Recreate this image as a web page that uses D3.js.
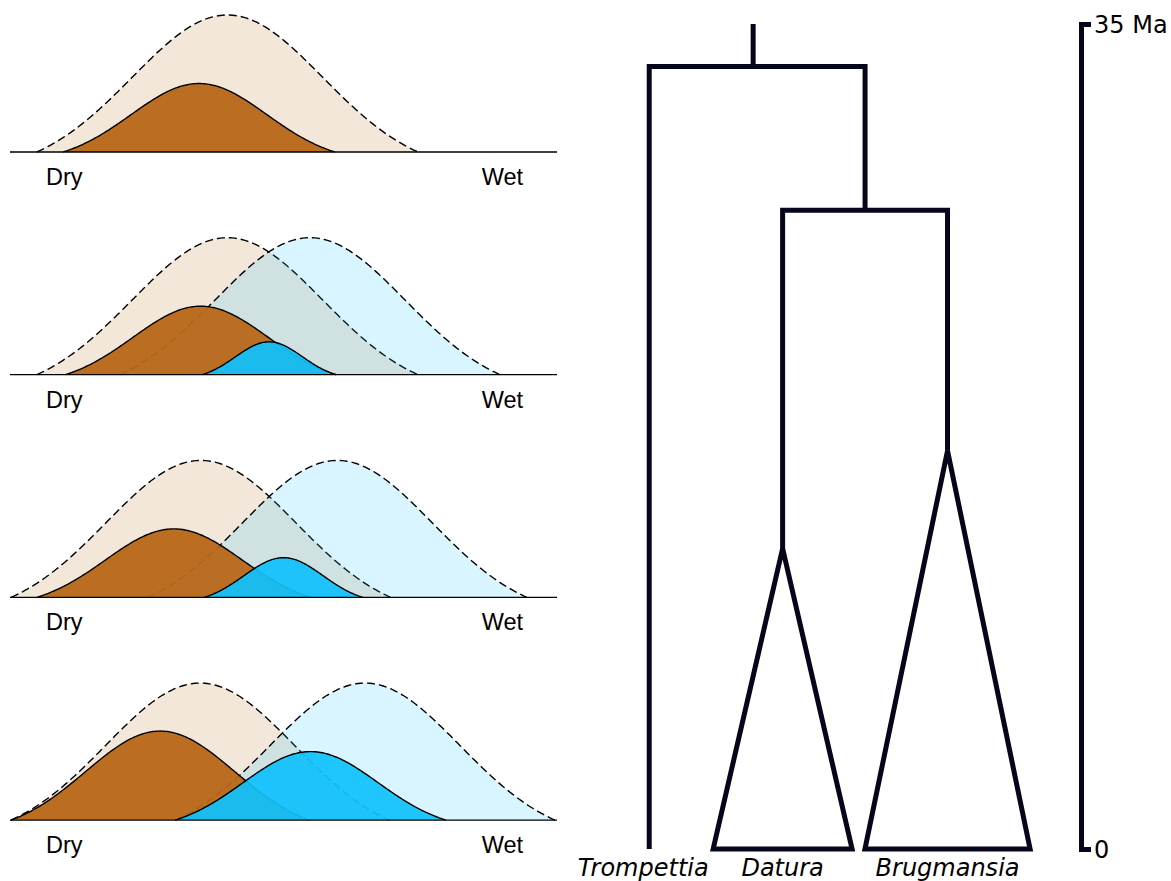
<!DOCTYPE html>
<html>
<head>
<meta charset="utf-8">
<script src="https://cdn.jsdelivr.net/npm/d3@7"></script>
<style>
  body { margin: 0; background: #fff; }
  .lab { font-family: "Liberation Sans", Arial, sans-serif; font-size: 23.5px; fill: #000; }
  .taxon { font-family: "DejaVu Sans", Verdana, sans-serif; font-size: 24px; font-style: italic; fill: #000; }
  .scale text { font-family: "DejaVu Sans", Verdana, sans-serif; font-size: 24px; fill: #000; }
</style>
</head>
<body>
<svg id="fig"></svg>
<script>
var width = 1171,
height = 881;

// niche curves for each stage, [dry end, wet end, peak] on a 0-100 moisture axis
var ancPotential = [[4.9, 74.6, 1], [4.9, 74.6, 1], [0.2, 69.6, 1], [0.2, 69.3, 1]];
var ancRealized  = [[9.7, 59.4, 0.5], [10.1, 59.6, 0.5], [4.9, 55.0, 0.5], [0.2, 54.7, 0.65]];
var derPotential = [null, [20.1, 89.6, 1], [25.2, 94.5, 1], [30.2, 99.6, 1]];
var derRealized  = [null, [35.1, 59.6, 0.24], [35.5, 64.5, 0.29], [30.2, 79.7, 0.5]];
var axisLabels = ["Dry", "Wet"];

// tree: ages in Ma
var rootAge = 35;
var rootSplit = 33.2;
var innerSplit = 27.1;
var taxa = ["Trompettia", "Datura", "Brugmansia"];
var crownAge = [0, 12.75, 16.9];
var tipLeft = [10.7, 24.6, 57.6];   // horizontal tree units, 0-100
var tipRight = [10.7, 54.8, 93.5];
var scaleTicks = [0, 35];

var brown = "#b76718",
blue = "#10c1fd",
ink = "#05051c";

var svg = d3.select("#fig")
.attr("width", width)
.attr("height", height);

/////////////////////// niche panels ///////////////////////
var x = d3.scaleLinear().domain([0, 100]).range([10, 557]);
var panelH = 137, panelStep = 222.7, panelTop = 15;

// bell shape cut at +-2 sd, dropped so that it meets the baseline
var zMax = 2, edge = Math.exp(-zMax * zMax / 2);
function bump(t) { var z = t * zMax; return (Math.exp(-z * z / 2) - edge) / (1 - edge); }

function curvePoints(c) {
  var mid = (c[0] + c[1]) / 2, half = (c[1] - c[0]) / 2;
  return d3.range(0, 161).map(function(i) {
    var v = c[0] + (c[1] - c[0]) * i / 160;
    return [v, c[2] * Math.max(0, bump((v - mid) / half))];
  });
}

ancPotential.forEach(function(d, i) {
  var base = panelTop + i * panelStep + panelH;
  var y = d3.scaleLinear().domain([0, 1]).range([base, base - panelH]);
  var g = svg.append("g");

  var area = d3.area()
  .x(function(p) { return x(p[0]); })
  .y0(base)
  .y1(function(p) { return y(p[1]); });
  var line = area.lineY1();

  function draw(c, col, dashed) {
    if (!c) return;
    var pts = curvePoints(c);
    g.append("path").attr("d", area(pts))
    .attr("fill", col)
    .attr("fill-opacity", dashed ? 0.16 : (col == blue ? 0.93 : 0.95));
    g.append("path").attr("d", line(pts))
    .attr("fill", "none")
    .attr("stroke", "#000")
    .attr("stroke-width", 1.4)
    .attr("stroke-dasharray", dashed ? "8,4" : null);
  }

  draw(ancPotential[i], brown, true);
  draw(derPotential[i], blue, true);
  draw(ancRealized[i], brown, false);
  draw(derRealized[i], blue, false);

  g.append("line")
  .attr("x1", x(0)).attr("x2", x(100))
  .attr("y1", base).attr("y2", base)
  .attr("stroke", "#000").attr("stroke-width", 1.3);

  g.append("text").attr("class", "lab")
  .attr("x", 46).attr("y", base + 33)
  .text(axisLabels[0]);
  g.append("text").attr("class", "lab")
  .attr("x", 523).attr("y", base + 33)
  .attr("text-anchor", "end")
  .text(axisLabels[1]);
});

/////////////////////// tree ///////////////////////
var age = d3.scaleLinear().domain([0, 35]).range([849, 24]);
var tx = d3.scaleLinear().domain([0, 100]).range([600, 1060]);

var tree = svg.append("g")
.attr("fill", "none")
.attr("stroke", ink)
.attr("stroke-width", 5)
.attr("stroke-linejoin", "miter");

var tipX = taxa.map(function(t, i) { return tx((tipLeft[i] + tipRight[i]) / 2); });
var innerX = (tipX[1] + tipX[2]) / 2;
var rootX = (tipX[0] + innerX) / 2 - 4;

// root stem
tree.append("path")
.attr("d", "M" + rootX + "," + age(rootAge) + "V" + age(rootSplit));
// root bracket
tree.append("path")
.attr("d", "M" + tipX[0] + "," + age(0) + "V" + age(rootSplit) + "H" + innerX + "V" + age(innerSplit));
// inner bracket down to crowns
tree.append("path")
.attr("d", "M" + tipX[1] + "," + age(crownAge[1]) + "V" + age(innerSplit) + "H" + tipX[2] + "V" + age(crownAge[2]));

// clade triangles
[1, 2].forEach(function(i) {
  tree.append("path")
  .attr("d", "M" + tipX[i] + "," + age(crownAge[i]) +
    "L" + tx(tipRight[i]) + "," + age(0) +
    "H" + tx(tipLeft[i]) + "Z");
});

svg.selectAll(".taxon")
.data(taxa)
.enter().append("text")
.attr("class", "taxon")
.attr("x", function(d, i) { return tipX[i] + (i == 0 ? -6 : 0); })
.attr("y", 876)
.attr("text-anchor", "middle")
.text(function(d) { return d; });

/////////////////////// time scale ///////////////////////
var scaleAxis = d3.axisRight(age)
.tickValues(scaleTicks)
.tickSizeInner(0)
.tickSizeOuter(10)
.tickPadding(14)
.tickFormat(function(d) { return d == 35 ? "35 Ma" : d; });

var sg = svg.append("g")
.attr("class", "scale")
.attr("transform", "translate(1081,0)")
.call(scaleAxis);
sg.select(".domain").attr("stroke", ink).attr("stroke-width", 5).attr("fill", "none");
sg.selectAll(".tick text").attr("x", 13).attr("dy", "0.35em");
sg.attr("font-size", null).attr("font-family", null);
</script>
</body>
</html>
